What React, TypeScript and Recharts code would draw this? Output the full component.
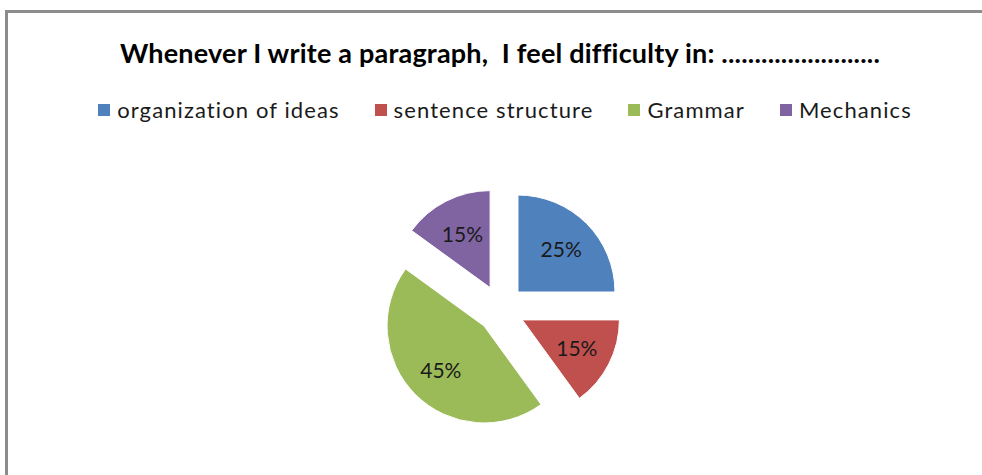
import { PieChart, Pie, Legend } from 'recharts';

const categories = ['organization of ideas', 'sentence structure', 'Grammar', 'Mechanics'];
const shares = [25, 15, 45, 15];
const colors = ['#4f81bd', '#c0504d', '#9bbb59', '#8064a2'];
const title = 'Whenever I write a paragraph,  I feel difficulty in: ........................';

const RADIAN = Math.PI / 180;
const FONT = 'Lato, "Open Sans", sans-serif';
const CX = 501;
const CY = 309;
const R = 97;
const EXPLODE = 24;

const total = shares.reduce((a, b) => a + b, 0);

// each slice is its own Pie so it can be pulled out along its bisector
const slices = shares.map((v, i) => {
  const before = shares.slice(0, i).reduce((a, b) => a + b, 0);
  const start = 90 - (360 * before) / total;
  const end = 90 - (360 * (before + v)) / total;
  const mid = (start + end) / 2;
  return {
    start,
    end,
    cx: CX + EXPLODE * Math.cos(mid * RADIAN),
    cy: CY - EXPLODE * Math.sin(mid * RADIAN),
    data: [{ name: categories[i], value: v }],
    color: colors[i],
  };
});

const renderLabel = (p: any) => {
  const r = p.outerRadius * 0.63;
  const x = p.cx + r * Math.cos(-p.midAngle * RADIAN);
  const y = p.cy + r * Math.sin(-p.midAngle * RADIAN);
  return (
    <text x={x} y={y} textAnchor="middle" dominantBaseline="central" fill="#1a1a1a" fontSize={21} fontFamily={FONT}>
      {p.value}%
    </text>
  );
};

const LegendRow = (props: any) => {
  const items = props.payload || [];
  return (
    <div
      style={{
        display: 'flex',
        justifyContent: 'center',
        gap: 35,
        fontFamily: FONT,
        fontSize: 22,
        letterSpacing: 1.1,
        color: '#1a1a1a',
      }}
    >
      {items.map((it: any, i: number) => (
        <div key={i} style={{ display: 'flex', alignItems: 'center' }}>
          <span style={{ width: 12, height: 12, background: it.color, marginRight: 7, display: 'inline-block' }} />
          <span>{it.value}</span>
        </div>
      ))}
    </div>
  );
};

export default function App() {
  return (
    <div style={{ position: 'fixed', left: 0, top: 0, width: 982, height: 475, background: '#fff', overflow: 'hidden' }}>
      <div style={{ position: 'absolute', left: 5, top: 10, width: 990, height: 3, background: '#8c8c8c' }} />
      <div style={{ position: 'absolute', left: 5, top: 10, width: 3, height: 470, background: '#8c8c8c' }} />
      <div
        style={{
          position: 'absolute',
          left: 0,
          width: 1000,
          top: 36,
          textAlign: 'center',
          fontFamily: FONT,
          fontWeight: 700,
          fontSize: 27,
          letterSpacing: 0.2,
          color: '#000',
          whiteSpace: 'pre',
        }}
      >
        {title}
      </div>
      <div style={{ position: 'absolute', left: 0, top: 0 }}>
        <PieChart width={982} height={475} margin={{ top: 0, right: 0, bottom: 0, left: 0 }}>
          <Legend
            layout="horizontal"
            verticalAlign="middle"
            align="center"
            content={LegendRow}
            itemSorter={(item: any) => categories.indexOf(item.value)}
            wrapperStyle={{ top: 96, left: 14, width: 982 }}
          />
          {slices.map((s, i) => (
            <Pie
              key={i}
              data={s.data}
              dataKey="value"
              nameKey="name"
              cx={s.cx}
              cy={s.cy}
              outerRadius={R}
              startAngle={s.start}
              endAngle={s.end}
              fill={s.color}
              stroke="#ffffff"
              strokeWidth={1}
              label={renderLabel}
              labelLine={false}
              isAnimationActive={false}
            />
          ))}
        </PieChart>
      </div>
    </div>
  );
}
